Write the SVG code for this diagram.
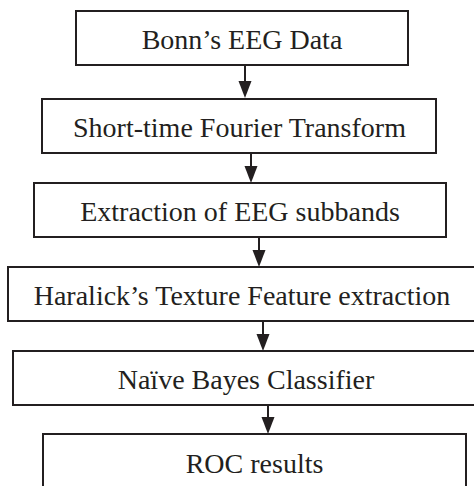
<svg xmlns="http://www.w3.org/2000/svg" width="474" height="486" viewBox="0 0 474 486">
<style>
.box{fill:#fff;stroke:#231f20;stroke-width:2}
.lbl{font-family:'Liberation Serif','Times New Roman',serif;font-size:28px;fill:#231f20;text-anchor:middle}
.conn{stroke:#231f20;stroke-width:2;fill:none}
.head{fill:#231f20}
</style>
<rect width="474" height="486" fill="#fff"/>
<g id="connectors">
<line class="conn" x1="245" y1="65" x2="245" y2="82"/><polygon class="head" points="238.5,81 251.5,81 245,98"/>
<line class="conn" x1="251" y1="153" x2="251" y2="167"/><polygon class="head" points="244.5,166 257.5,166 251,183"/>
<line class="conn" x1="259" y1="237" x2="259" y2="251"/><polygon class="head" points="252.5,250 265.5,250 259,267"/>
<line class="conn" x1="263" y1="321" x2="263" y2="335"/><polygon class="head" points="256.5,334 269.5,334 263,351"/>
<line class="conn" x1="268" y1="405" x2="268" y2="418"/><polygon class="head" points="261.5,417 274.5,417 268,434"/>
</g>
<g id="n1"><rect class="box" x="76" y="11" width="332" height="54"/><text class="lbl" font-family="Liberation Serif, serif" x="242" y="49">Bonn’s EEG Data</text></g>
<g id="n2"><rect class="box" x="42" y="99" width="394" height="54"/><text class="lbl" font-family="Liberation Serif, serif" x="239.5" y="137">Short-time Fourier Transform</text></g>
<g id="n3"><rect class="box" x="34" y="183" width="412" height="54"/><text class="lbl" font-family="Liberation Serif, serif" x="240" y="221">Extraction of EEG subbands</text></g>
<g id="n4"><rect class="box" x="8" y="267" width="480" height="54"/><text class="lbl" font-family="Liberation Serif, serif" x="242" y="305">Haralick’s Texture Feature extraction</text></g>
<g id="n5"><rect class="box" x="13" y="351" width="475" height="54"/><text class="lbl" font-family="Liberation Serif, serif" x="246" y="389">Naïve Bayes Classifier</text></g>
<g id="n6"><rect class="box" x="43" y="434" width="423" height="60"/><text class="lbl" font-family="Liberation Serif, serif" x="254.5" y="473">ROC results</text></g>
</svg>
